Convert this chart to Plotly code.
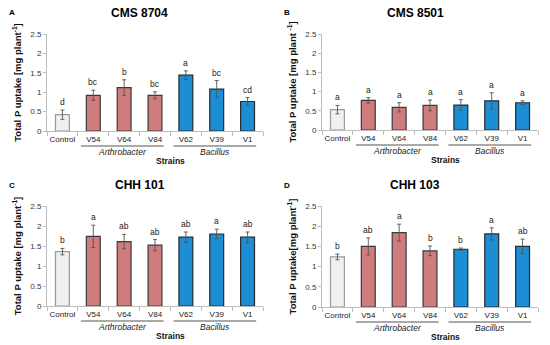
import plotly.graph_objects as go

categories = ["Control", "V54", "V64", "V84", "V62", "V39", "V1"]
groups = ["control", "arthro", "arthro", "arthro", "bacillus", "bacillus", "bacillus"]

titles = ["CMS 8704", "CMS 8501", "CHH 101", "CHH 103"]
panel_letters = ["A", "B", "C", "D"]

a_vals = [0.42, 0.92, 1.12, 0.92, 1.44, 1.08, 0.76]
a_errs = [0.12, 0.13, 0.20, 0.09, 0.11, 0.22, 0.10]
a_sig = ["d", "bc", "b", "bc", "a", "bc", "cd"]

b_vals = [0.53, 0.77, 0.59, 0.64, 0.65, 0.76, 0.71]
b_errs = [0.11, 0.07, 0.12, 0.14, 0.14, 0.21, 0.05]
b_sig = ["a", "a", "a", "a", "a", "a", "a"]

c_vals = [1.36, 1.74, 1.61, 1.52, 1.72, 1.80, 1.72]
c_errs = [0.08, 0.28, 0.18, 0.14, 0.13, 0.12, 0.13]
c_sig = ["b", "a", "ab", "ab", "ab", "a", "ab"]

d_vals = [1.24, 1.50, 1.84, 1.39, 1.43, 1.81, 1.50]
d_errs = [0.07, 0.21, 0.21, 0.12, 0.03, 0.15, 0.18]
d_sig = ["b", "ab", "a", "b", "b", "a", "ab"]

y_ticks = [0, 0.5, 1, 1.5, 2, 2.5]
y_ticktext = ["0", "0.5", "1", "1.5", "2", "2.5"]

panels = [
    (a_vals, a_errs, a_sig),
    (b_vals, b_errs, b_sig),
    (c_vals, c_errs, c_sig),
    (d_vals, d_errs, d_sig),
]

ytitles = [
    "Total P uptake [mg plant<sup>-1</sup>]",
    "Total P uptake [mg plant <sup>-1</sup>]",
    "Total P uptake [mg plant<sup>-1</sup>]",
    "Total P uptake[mg plant<sup>-1</sup>]",
]

W, H = 550, 345
FONT = "Arial, Liberation Sans, sans-serif"
fill_colors = {"control": "#f0f0f0", "arthro": "#d07c7c", "bacillus": "#1c8ed6"}
line_colors = {"control": "#9a9a9a", "arthro": "#3a3a3a", "bacillus": "#2a2a2a"}

# pixel layout of each panel: (x0, x1, ytop, ybottom) in px
px = [
    (47, 263, 34, 131),
    (322, 538, 34, 130),
    (47, 263, 206, 306),
    (322, 538, 206, 307),
]
title_pos = [(140, 13), (415, 13), (140, 185), (415, 185)]
letter_pos = [(12, 13), (287, 13), (12, 185), (287, 185)]

fig = go.Figure()
layout = {}
annotations = []
shapes = []

for i, ((vals, errs, sig), (x0, x1, yt, yb)) in enumerate(zip(panels, px)):
    n = i + 1
    xa = "x" if n == 1 else f"x{n}"
    ya = "y" if n == 1 else f"y{n}"
    fig.add_trace(go.Bar(
        x=categories, y=vals,
        xaxis=xa, yaxis=ya,
        width=0.45,
        marker=dict(color=[fill_colors[g] for g in groups],
                    line=dict(color=[line_colors[g] for g in groups], width=1.2)),
        error_y=dict(type="data", array=errs, visible=True, color="#555555",
                     thickness=0.9, width=2),
        showlegend=False, hoverinfo="skip",
    ))
    xkey = "xaxis" if n == 1 else f"xaxis{n}"
    ykey = "yaxis" if n == 1 else f"yaxis{n}"
    layout[xkey] = dict(
        domain=[x0 / W, x1 / W], anchor=ya,
        showline=True, linecolor="#bdbdbd", linewidth=1,
        ticks="outside", tickson="boundaries", ticklen=4, tickcolor="#bdbdbd",
        tickangle=0, automargin=False,
        tickfont=dict(family=FONT, size=8, color="#222222"),
        showgrid=False, zeroline=False, fixedrange=True,
    )
    layout[ykey] = dict(
        domain=[1 - yb / H, 1 - yt / H], anchor=xa,
        range=[0, 2.5], tickvals=y_ticks, ticktext=y_ticktext,
        showline=True, linecolor="#bdbdbd", linewidth=1,
        ticks="outside", ticklen=3, tickcolor="#bdbdbd", automargin=False,
        tickfont=dict(family=FONT, size=8, color="#333333"),
        showgrid=False, zeroline=False, fixedrange=True,
        title=dict(text="<b>" + ytitles[i] + "</b>", standoff=6,
                   font=dict(family=FONT, size=9.5, color="#111111")),
    )
    # significance letters
    for c, v, e, s in zip(categories, vals, errs, sig):
        annotations.append(dict(
            x=c, y=v + e, xref=xa, yref=ya, text=s, showarrow=False,
            yanchor="bottom", yshift=1,
            font=dict(family=FONT, size=8.5, color="#222222"),
        ))
    # group lines and labels
    for lo, hi, name in [(1, 3, "Arthrobacter"), (4, 6, "Bacillus")]:
        shapes.append(dict(
            type="line", xref=xa, yref=f"{ya} domain",
            x0=lo - 0.4, x1=hi + 0.28,
            y0=-15 / (yb - yt), y1=-15 / (yb - yt),
            line=dict(color="#555555", width=1),
        ))
        annotations.append(dict(
            x=(lo + hi) / 2 - 0.05, y=0, xref=xa, yref=f"{ya} domain",
            text="<i>" + name + "</i>", showarrow=False,
            yanchor="middle", yshift=-20.5,
            font=dict(family=FONT, size=8.5, color="#222222"),
        ))
    annotations.append(dict(
        x=3.5, y=0, xref=xa, yref=f"{ya} domain",
        text="<b>Strains</b>", showarrow=False,
        yanchor="middle", yshift=-29.5,
        font=dict(family=FONT, size=8.5, color="#111111"),
    ))
    tx, ty = title_pos[i]
    annotations.append(dict(
        x=tx / W, y=1 - ty / H, xref="paper", yref="paper",
        text="<b>" + titles[i] + "</b>", showarrow=False,
        xanchor="center", yanchor="middle",
        font=dict(family=FONT, size=12, color="#000000"),
    ))
    lx, ly = letter_pos[i]
    annotations.append(dict(
        x=lx / W, y=1 - ly / H, xref="paper", yref="paper",
        text="<b>" + panel_letters[i] + "</b>", showarrow=False,
        xanchor="center", yanchor="middle",
        font=dict(family=FONT, size=8, color="#000000"),
    ))

fig.update_layout(
    width=W, height=H,
    margin=dict(l=0, r=0, t=0, b=0),
    paper_bgcolor="white", plot_bgcolor="white",
    annotations=annotations, shapes=shapes,
    **layout,
)

fig.write_html(
    "out.html",
    config={"displayModeBar": False},
    post_script="document.body.style.margin='0px';document.body.style.overflow='hidden';",
)
